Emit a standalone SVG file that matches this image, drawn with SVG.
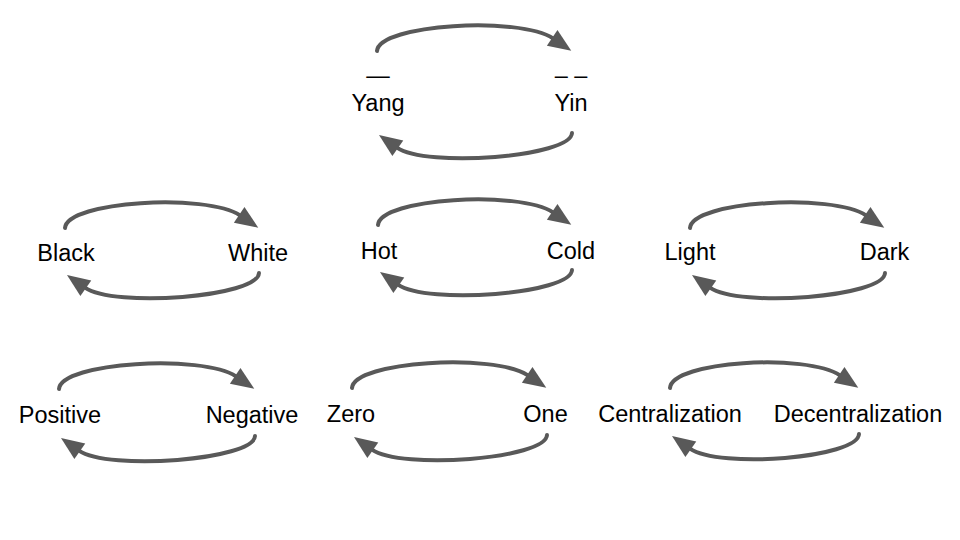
<svg xmlns="http://www.w3.org/2000/svg" width="960" height="540" viewBox="0 0 960 540">
<style>
  .lbl { font-family: "Liberation Sans", Arial, sans-serif; font-size: 23.5px; fill: #000; text-anchor: middle; }
  .arc { fill: none; stroke: #595959; stroke-width: 4; stroke-linecap: round; marker-end: url(#ah); }
</style>
<defs>
  <marker id="ah" markerUnits="userSpaceOnUse" markerWidth="30" markerHeight="30" refX="1" refY="0" orient="auto" overflow="visible">
    <path d="M0,-9.5 L23,0 L0,9.5 Z" fill="#595959"/>
  </marker>
</defs>
<rect width="960" height="540" fill="#fff"/>
<g id="connectors">
  <path class="arc" d="M377,51 C379,24 519.6,16 553,38.4"/>
  <path class="arc" d="M572,133 C571,157 426.1,168 397,147.6"/>
  <path class="arc" d="M65,228 C67,201 206.6,193 240,215.4"/>
  <path class="arc" d="M259,273 C258,297 114.1,308 85,287.6"/>
  <path class="arc" d="M378,225 C380,198 519.6,190 553,212.4"/>
  <path class="arc" d="M572,270 C571,294 427.1,305 398,284.6"/>
  <path class="arc" d="M690,228 C692,201 832.6,193 866,215.4"/>
  <path class="arc" d="M885,273 C884,297 739.1,308 710,287.6"/>
  <path class="arc" d="M59,389 C61,362 202.6,354 236,376.4"/>
  <path class="arc" d="M255,436 C254,460 108.1,471 79,450.6"/>
  <path class="arc" d="M352,388 C354,361 494.6,353 528,375.4"/>
  <path class="arc" d="M547,435 C546,459 401.1,470 372,449.6"/>
  <path class="arc" d="M670,388 C672,361 806.6,353 840,375.4"/>
  <path class="arc" d="M859,434 C858,458 719.1,469 690,448.6"/>
</g>
<g id="yang"><text class="lbl"><tspan x="378" y="82.5">—</tspan><tspan x="378" y="111">Yang</tspan></text></g>
<g id="yin"><text class="lbl"><tspan x="571" y="82.5">– –</tspan><tspan x="571" y="111">Yin</tspan></text></g>
<g id="black"><text class="lbl" x="66" y="260.5">Black</text></g>
<g id="white"><text class="lbl" x="258" y="260.5">White</text></g>
<g id="hot"><text class="lbl" x="379" y="259">Hot</text></g>
<g id="cold"><text class="lbl" x="571" y="259">Cold</text></g>
<g id="light"><text class="lbl" x="690" y="260">Light</text></g>
<g id="dark"><text class="lbl" x="884.5" y="260">Dark</text></g>
<g id="positive"><text class="lbl" x="60" y="422.5">Positive</text></g>
<g id="negative"><text class="lbl" x="252" y="422.5">Negative</text></g>
<g id="zero"><text class="lbl" x="351" y="421.7">Zero</text></g>
<g id="one"><text class="lbl" x="545.5" y="421.7">One</text></g>
<g id="centralization"><text class="lbl" x="670" y="421.7">Centralization</text></g>
<g id="decentralization"><text class="lbl" x="858" y="421.7">Decentralization</text></g>
</svg>
